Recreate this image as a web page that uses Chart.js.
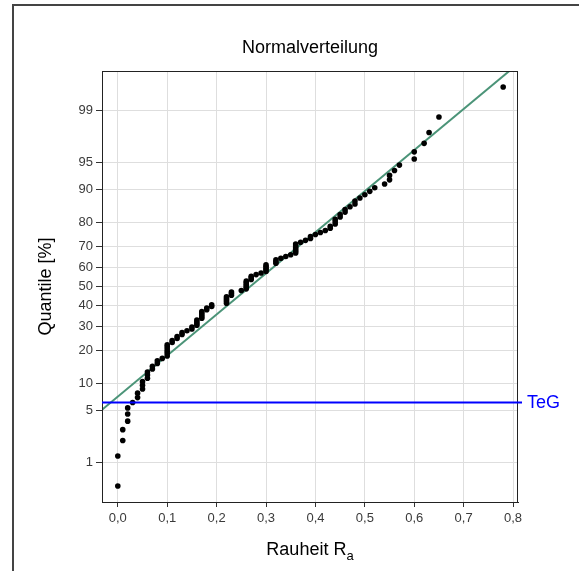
<!DOCTYPE html>
<html>
<head>
<meta charset="utf-8">
<script src="https://cdn.jsdelivr.net/npm/chart.js@4"></script>
<style>
  html, body { margin: 0; padding: 0; background: #fff; }
  #wrap { width: 579px; height: 571px; }
</style>
</head>
<body>
<div id="wrap"><canvas id="chart" width="579" height="571"></canvas></div>
<script>
const raValues = [
  0.00, 0.00, 0.01, 0.01, 0.02, 0.02, 0.02, 0.03, 0.04, 0.04,
  0.05, 0.05, 0.05, 0.06, 0.06, 0.06, 0.07, 0.07, 0.08, 0.08,
  0.09, 0.10, 0.10, 0.10, 0.10, 0.10, 0.10, 0.11, 0.11, 0.12,
  0.12, 0.13, 0.13, 0.14, 0.15, 0.15, 0.16, 0.16, 0.16, 0.16,
  0.17, 0.17, 0.17, 0.17, 0.17, 0.18, 0.18, 0.19, 0.19, 0.22,
  0.22, 0.22, 0.22, 0.22, 0.23, 0.23, 0.23, 0.25, 0.26, 0.26,
  0.26, 0.26, 0.26, 0.26, 0.27, 0.27, 0.27, 0.28, 0.29, 0.30,
  0.30, 0.30, 0.30, 0.30, 0.32, 0.32, 0.32, 0.33, 0.34, 0.35,
  0.36, 0.36, 0.36, 0.36, 0.36, 0.36, 0.37, 0.38, 0.39, 0.39,
  0.40, 0.41, 0.42, 0.43, 0.43, 0.44, 0.44, 0.44, 0.45, 0.45,
  0.46, 0.46, 0.47, 0.48, 0.48, 0.49, 0.50, 0.51, 0.52, 0.54,
  0.55, 0.55, 0.56, 0.57, 0.60, 0.60, 0.62, 0.63, 0.65, 0.78
];

// fitted normal distribution (mean / std dev of Ra)
const fitMean = 0.268;
const fitSd = 0.184;

// TeG threshold in percent
const tegPercent = 6.3;

const yTickPercents = [1, 5, 10, 20, 30, 40, 50, 60, 70, 80, 90, 95, 99];
const xTickValues = [0, 0.1, 0.2, 0.3, 0.4, 0.5, 0.6, 0.7, 0.8];

const xMin = -0.032, xMax = 0.81;
const zMin = -2.85, zMax = 2.85;

// inverse normal cdf (Acklam)
function probit(p) {
  const a = [-3.969683028665376e+01, 2.209460984245205e+02, -2.759285104469687e+02,
             1.383577518672690e+02, -3.066479806614716e+01, 2.506628277459239e+00];
  const b = [-5.447609879822406e+01, 1.615858368580409e+02, -1.556989798598866e+02,
             6.680131188771972e+01, -1.328068155288572e+01];
  const c = [-7.784894002430293e-03, -3.223964580411365e-01, -2.400758277161838e+00,
             -2.549732539343734e+00, 4.374664141464968e+00, 2.938163982698783e+00];
  const d = [7.784695709041462e-03, 3.224671290700398e-01, 2.445134137142996e+00,
             3.754408661907416e+00];
  const pLow = 0.02425, pHigh = 1 - pLow;
  let q, r;
  if (p < pLow) {
    q = Math.sqrt(-2 * Math.log(p));
    return (((((c[0]*q+c[1])*q+c[2])*q+c[3])*q+c[4])*q+c[5]) /
           ((((d[0]*q+d[1])*q+d[2])*q+d[3])*q+1);
  }
  if (p <= pHigh) {
    q = p - 0.5; r = q * q;
    return (((((a[0]*r+a[1])*r+a[2])*r+a[3])*r+a[4])*r+a[5])*q /
           (((((b[0]*r+b[1])*r+b[2])*r+b[3])*r+b[4])*r+1);
  }
  q = Math.sqrt(-2 * Math.log(1 - p));
  return -(((((c[0]*q+c[1])*q+c[2])*q+c[3])*q+c[4])*q+c[5]) /
          ((((d[0]*q+d[1])*q+d[2])*q+d[3])*q+1);
}

// Hazen plotting positions (i - 0.5) / n for the sorted values
const n = raValues.length;
const points = raValues.map((v, i) => ({ x: v, y: probit((i + 0.5) / n) }));

// straight line of the fitted distribution (clipped by the plot area)
const fitLine = [xMin, 0.9].map(x => ({ x: x, y: (x - fitMean) / fitSd }));

const fmtComma = v => v.toFixed(1).replace('.', ',');
const FONT = '"Liberation Sans", Arial, sans-serif';

const framePlugin = {
  id: 'frame',
  beforeDraw(chart) {
    const ctx = chart.ctx;
    ctx.save();
    ctx.fillStyle = '#fff';
    ctx.fillRect(0, 0, chart.width, chart.height);
    ctx.strokeStyle = '#444';
    ctx.lineWidth = 2;
    ctx.beginPath();
    ctx.moveTo(13, chart.height);
    ctx.lineTo(13, 5);
    ctx.lineTo(chart.width, 5);
    ctx.stroke();
    ctx.restore();
  },
  afterDraw(chart) {
    const ctx = chart.ctx;
    const a = chart.chartArea;
    const cx = (a.left + a.right) / 2;
    ctx.save();
    // box round the plot
    ctx.strokeStyle = '#222';
    ctx.lineWidth = 1;
    ctx.strokeRect(a.left + 0.5, a.top + 0.5, a.right - a.left - 1, a.bottom - a.top);

    // TeG line and label
    const yTeg = Math.round(chart.scales.y.getPixelForValue(probit(tegPercent / 100))) + 0.5;
    ctx.strokeStyle = '#0000ff';
    ctx.lineWidth = 2;
    ctx.beginPath();
    ctx.moveTo(a.left, yTeg);
    ctx.lineTo(a.right + 4, yTeg);
    ctx.stroke();
    ctx.fillStyle = '#0000ff';
    ctx.font = '18px ' + FONT;
    ctx.textBaseline = 'middle';
    ctx.textAlign = 'left';
    ctx.fillText('TeG', a.right + 9, yTeg + 1);

    // title
    ctx.fillStyle = '#000';
    ctx.font = '18px ' + FONT;
    ctx.textAlign = 'center';
    ctx.textBaseline = 'alphabetic';
    ctx.fillText('Normalverteilung', cx, 53);

    // x axis title with subscript
    const main = 'Rauheit R', sub = 'a';
    ctx.font = '18px ' + FONT;
    const wMain = ctx.measureText(main).width;
    ctx.font = '13px ' + FONT;
    const wSub = ctx.measureText(sub).width;
    const x0 = cx - (wMain + wSub) / 2;
    ctx.textAlign = 'left';
    ctx.font = '18px ' + FONT;
    ctx.fillText(main, x0, 555);
    ctx.font = '13px ' + FONT;
    ctx.fillText(sub, x0 + wMain, 560);
    ctx.restore();
  }
};

new Chart(document.getElementById('chart'), {
  type: 'scatter',
  data: {
    datasets: [
      {
        type: 'line',
        data: fitLine,
        borderColor: '#4b9478',
        borderWidth: 2,
        pointRadius: 0,
        fill: false,
        order: 2
      },
      {
        data: points,
        backgroundColor: '#000',
        borderWidth: 0,
        pointRadius: 2.8,
        pointHoverRadius: 2.8,
        order: 1
      }
    ]
  },
  options: {
    responsive: false,
    animation: false,
    events: [],
    layout: { padding: { left: 35, right: 61, top: 71, bottom: 0 } },
    plugins: {
      legend: { display: false },
      tooltip: { enabled: false },
      title: { display: false }
    },
    scales: {
      x: {
        type: 'linear',
        min: xMin,
        max: xMax,
        afterBuildTicks: scale => { scale.ticks = xTickValues.map(v => ({ value: v })); },
        afterFit: scale => { scale.height = 69; },
        ticks: {
          callback: v => fmtComma(v),
          color: '#3a3a3a',
          font: { family: FONT, size: 13 },
          padding: 4,
          maxRotation: 0
        },
        grid: { color: '#dedede', lineWidth: 1, tickColor: '#333', tickLength: 5 },
        border: { color: '#222', width: 1 }
      },
      y: {
        type: 'linear',
        min: zMin,
        max: zMax,
        afterBuildTicks: scale => { scale.ticks = yTickPercents.map(p => ({ value: probit(p / 100) })); },
        afterFit: scale => { scale.width = 67; },
        ticks: {
          callback: (v, i) => String(yTickPercents[i]),
          color: '#3a3a3a',
          font: { family: FONT, size: 13 },
          padding: 3
        },
        grid: { color: '#dedede', lineWidth: 1, tickColor: '#333', tickLength: 6 },
        border: { color: '#222', width: 1 },
        title: {
          display: true,
          text: 'Quantile [%]',
          color: '#000',
          font: { family: FONT, size: 18 },
          padding: 0
        }
      }
    }
  },
  plugins: [framePlugin]
});
</script>
</body>
</html>
